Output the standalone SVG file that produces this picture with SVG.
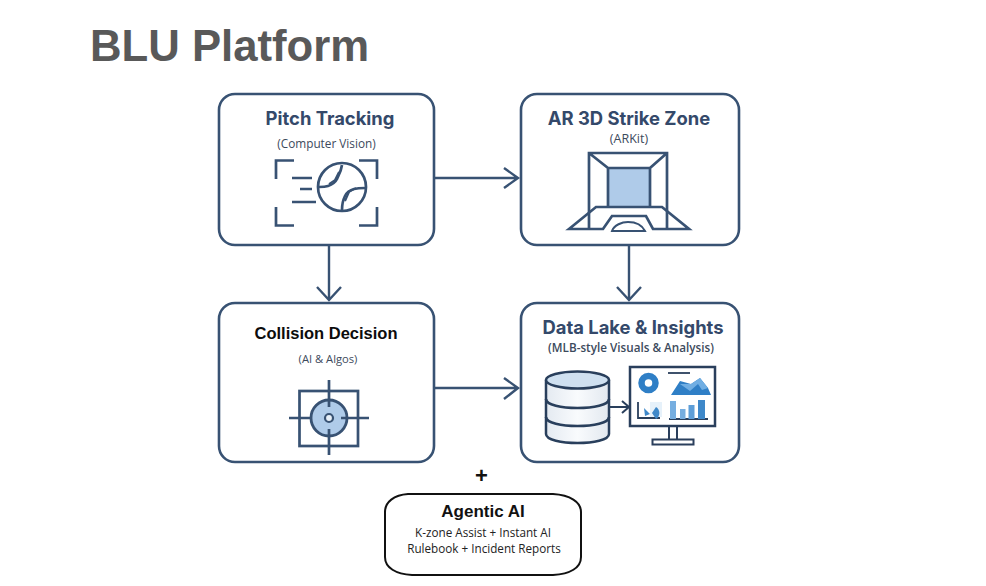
<svg xmlns="http://www.w3.org/2000/svg" width="986" height="586" viewBox="0 0 986 586">
<defs>
<linearGradient id="drum" x1="0" y1="0" x2="1" y2="0"><stop offset="0" stop-color="#e4eaf1"/><stop offset="0.5" stop-color="#f9fbfd"/><stop offset="1" stop-color="#e2e8ef"/></linearGradient>
</defs>
<style>
.box{fill:#fff;stroke:#385273;stroke-width:2.6}
.ic{fill:none;stroke:#385273;stroke-width:2.7}
.thin{fill:none;stroke:#385273;stroke-width:2}
.con{fill:none;stroke:#385273;stroke-width:2.4}
.t{font-family:"Liberation Sans",Arial,sans-serif;text-anchor:middle}
.h{font-family:Inter,"Liberation Sans",sans-serif;font-size:18.400px;font-weight:700;fill:#34496a}
.s{font-family:"Open Sans","Noto Sans",sans-serif;text-anchor:middle;font-size:11.8px;fill:#3c4a5c}
.a{font-family:"Open Sans","Noto Sans",sans-serif;text-anchor:middle;font-size:11.7px;fill:#222}
</style>
<rect width="986" height="586" fill="#fff"/>
<text id="title" x="90" y="61" font-family="Liberation Sans,Arial,sans-serif" font-weight="700" font-size="43.700px" fill="#595959">BLU Platform</text>

<g id="connectors">
<path class="con" d="M434 178H518M504 168L518 178L504 188"/>
<path class="con" d="M329 245V300M317 287L329 300L341 287"/>
<path class="con" d="M629 245V300M617 287L629 300L641 287"/>
<path class="con" d="M434 388H518M504 378L518 388L504 399"/>
</g>

<g id="pitch-tracking">
<rect class="box" x="219" y="94" width="215" height="151" rx="16"/>
<text class="t h" x="330" y="125">Pitch Tracking</text>
<text class="s" x="326.500" y="148">(Computer Vision)</text>
<path class="ic" d="M294 160.500H276V179M377 179V160.500H359M276 207V225.500H294M359 225.500H377V207"/>
<path class="ic" d="M292 178H312M300 189H312M292 202H316"/>
<circle class="ic" cx="342" cy="187" r="24"/>
<path class="ic" d="M342 165C341 172 338 176 337 179C335 183 331 185 328 186C325 187 322 187 319 187M342 210C342 204 343 200 345 196C347 192 350 190 354 189C358 188 361 188 365 188"/>
<path class="thin" d="M339 172L335 180L329 184M345 201L349 192L356 188"/>
</g>

<g id="ar-strike-zone">
<rect class="box" x="521" y="94" width="218" height="151" rx="16"/>
<text class="t h" x="629" y="125">AR 3D Strike Zone</text>
<text class="s" x="629" y="143" style="font-size:12.500px">(ARKit)</text>
<rect x="608" y="168" width="42" height="39" fill="#afcbe9"/>
<path class="ic" d="M589 228V153H667V228M589 153L608 168M667 153L650 168M608 207V168H650V207"/>
<path class="ic" d="M569 229L596 207H662L689 229H653L646 216H612L603 229Z"/>
<path class="thin" d="M612 231C614 225 622 222 628 222C636 222 642 225 645 231Z"/>
</g>

<g id="collision-decision">
<rect class="box" x="219" y="303" width="215" height="159" rx="16"/>
<text class="t" x="326" y="339" font-size="16.500px" font-weight="700" fill="#0c0c0c">Collision Decision</text>
<text class="s" x="328" y="363" style="font-size:11.200px">(AI &amp; Algos)</text>
<rect class="ic" x="299.500" y="391" width="58.500" height="55"/>
<circle cx="329" cy="418" r="18" fill="#afcbe9" stroke="#385273" stroke-width="2.800"/>
<circle cx="329" cy="418" r="4" fill="#e8f0f8" stroke="#385273" stroke-width="2.200"/>
<path class="ic" d="M329 380V407M329 429V455M289 418H310M341 418H369"/>
</g>

<g id="data-lake">
<rect class="box" x="521" y="303" width="218" height="159" rx="16"/>
<text class="t h" x="633" y="334">Data Lake &amp; Insights</text>
<text class="s" x="631" y="352" font-weight="600" style="font-size:11.700px">(MLB-style Visuals &amp; Analysis)</text>
<path d="M546 381V434C546 446 609 446 609 434V381Z" fill="url(#drum)" stroke="#293f5c" stroke-width="2.500"/>
<ellipse cx="577.500" cy="380" rx="31.500" ry="8.500" fill="#cfe0f0" stroke="#293f5c" stroke-width="2.500"/>
<path class="ic" d="M546 399C546 411 609 411 609 399M546 417C546 429 609 429 609 417" style="stroke:#293f5c"/>
<path class="thin" d="M609 407H628M622 401L629 407L622 413" style="stroke:#293f5c"/>
<rect x="630" y="367" width="85" height="59" fill="#fff" stroke="#2a3f5c" stroke-width="2.500"/>
<path d="M669 426V439M677 426V439" stroke="#2a3f5c" stroke-width="2" fill="none"/>
<rect x="652.500" y="439.500" width="41" height="5" fill="#fff" stroke="#2a3f5c" stroke-width="2"/>
<circle cx="648.500" cy="383" r="7" fill="none" stroke="#2f7fc6" stroke-width="6.500"/>
<path d="M668 373H690" stroke="#2a3f5c" stroke-width="1.800"/>
<path d="M671 395L680 381L691 384L700 378L708 388L711 395Z" fill="#2f7fc6"/>
<path d="M680 384L690 391L698 384L702 390L708 388L700 378L691 384Z" fill="#70aee3"/>
<path d="M638 402V418H660" fill="none" stroke="#2a3f5c" stroke-width="1.800"/>
<rect x="650" y="402" width="12" height="15" fill="#e6f1fa"/>
<path d="M644 408L650 414L645 416ZM656 407A7 7 0 0 1 656 419L652 413Z" fill="#3e88c9"/>
<path d="M669 419H708" stroke="#2a3f5c" stroke-width="1.800"/>
<rect x="670" y="401" width="6" height="18" fill="#76aee0"/>
<rect x="680" y="409" width="5.500" height="10" fill="#76aee0"/>
<rect x="688.500" y="405" width="6" height="14" fill="#5d9ed8"/>
<rect x="698" y="400" width="7" height="19" fill="#3e88c9"/>
</g>

<text id="plus" class="t" x="481.500" y="483" font-size="22px" font-weight="700" fill="#111">+</text>

<g id="agentic-ai">
<path d="M408 494H553C570 495 581 502 581 512V557C581 568 570 574 553 575H412C396 574 385 568 385 557V512C385 502 394 495 408 494Z" fill="#fff" stroke="#111" stroke-width="2"/>
<text class="t" x="483" y="517" font-size="17px" font-weight="700" fill="#111">Agentic AI</text>
<text class="a" x="483" y="537">K-zone Assist + Instant AI</text>
<text class="a" x="484" y="553">Rulebook + Incident Reports</text>
</g>
</svg>
